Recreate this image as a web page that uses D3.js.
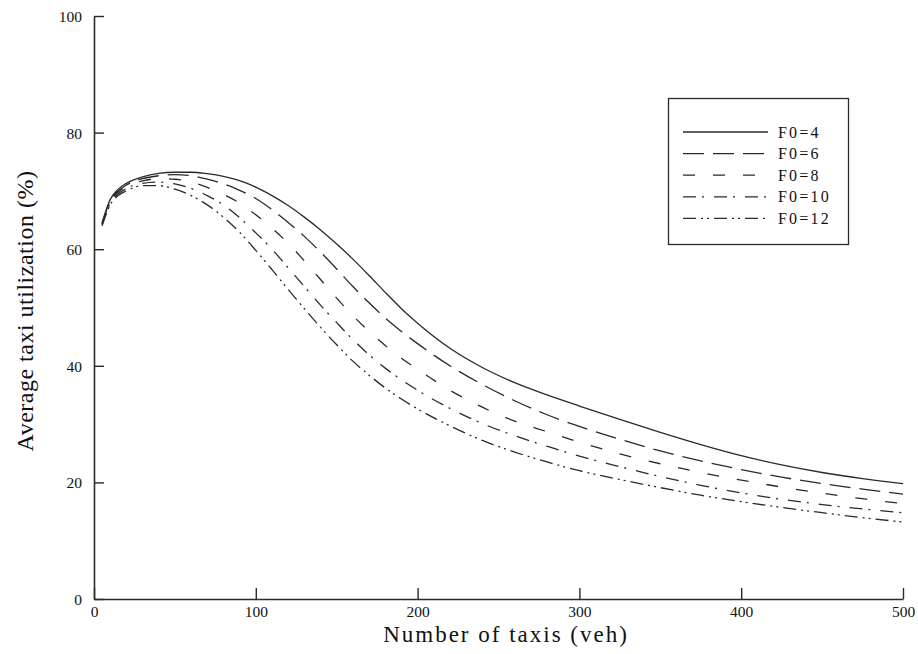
<!DOCTYPE html>
<html>
<head>
<meta charset="utf-8">
<script src="https://cdn.jsdelivr.net/npm/d3@7/dist/d3.min.js"></script>
<style>
  html, body { margin: 0; padding: 0; background: #fff; }
  svg { display: block; }
  text { font-family: "Liberation Serif", "DejaVu Serif", serif; fill: #111; }
</style>
</head>
<body>
<svg id="chart" width="918" height="654"></svg>
<script>
// Fleet size (vehicles) at which utilization was evaluated
const fleetSizes = [5, 10, 15, 20, 30, 40, 50, 60, 70, 80, 90, 100, 110, 120, 130, 140, 150, 160, 170, 180, 190, 200, 220, 240, 260, 280, 300, 325, 350, 375, 400, 425, 450, 475, 500];

// Average taxi utilization (%) for each F0 setting
const utilF0_4  = [64.5, 68.5, 70.3, 71.3, 72.4, 73.0, 73.2, 73.2, 72.95, 72.5, 71.75, 70.65, 69.2, 67.5, 65.5, 63.3, 60.9, 58.3, 55.5, 52.6, 49.8, 47.3, 43.0, 39.7, 37.1, 35.0, 33.1, 30.8, 28.6, 26.5, 24.6, 23.0, 21.7, 20.65, 19.8];
const utilF0_6  = [64.4, 68.3, 70.0, 71.0, 72.1, 72.6, 72.8, 72.6, 72.0, 71.2, 70.1, 68.7, 66.8, 64.6, 62.2, 59.5, 56.6, 53.6, 50.8, 48.2, 45.9, 43.8, 40.0, 36.8, 34.0, 31.6, 29.6, 27.4, 25.4, 23.7, 22.2, 20.9, 19.8, 18.85, 18.0];
const utilF0_8  = [64.3, 68.1, 69.8, 70.7, 71.7, 72.1, 72.0, 71.5, 70.6, 69.4, 67.9, 65.9, 63.6, 61.0, 58.0, 54.8, 51.6, 48.6, 45.9, 43.5, 41.3, 39.4, 35.8, 32.9, 30.5, 28.7, 26.9, 24.9, 23.2, 21.7, 20.4, 19.2, 18.15, 17.2, 16.35];
const utilF0_10 = [64.2, 67.9, 69.5, 70.4, 71.3, 71.5, 71.2, 70.4, 69.2, 67.6, 65.4, 62.8, 60.0, 56.8, 53.6, 50.4, 47.4, 44.5, 41.9, 39.6, 37.6, 35.8, 32.7, 30.1, 28.0, 26.2, 24.5, 22.7, 21.0, 19.5, 18.2, 17.1, 16.2, 15.45, 14.8];
const utilF0_12 = [64.0, 67.6, 69.2, 70.0, 70.9, 70.9, 70.3, 69.2, 67.6, 65.5, 62.9, 59.8, 56.5, 53.1, 49.8, 46.6, 43.6, 40.8, 38.4, 36.2, 34.3, 32.6, 29.7, 27.2, 25.2, 23.5, 22.0, 20.5, 19.1, 17.8, 16.7, 15.7, 14.8, 13.95, 13.2];

const seriesLabels = ["F0=4", "F0=6", "F0=8", "F0=10", "F0=12"];
const seriesValues = [utilF0_4, utilF0_6, utilF0_8, utilF0_10, utilF0_12];
const seriesDashes = ["none", "21,9", "12,18", "13,6,2,10", "13,5,2,4,2,5"];

const xTicks = [0, 100, 200, 300, 400, 500];
const yTicks = [0, 20, 40, 60, 80, 100];

const svg = d3.select("#chart");
const ink = "#2a2a2a";

const x = d3.scaleLinear().domain([0, 500]).range([94, 903]);
const y = d3.scaleLinear().domain([0, 100]).range([599, 16]);

// Axes with inward-pointing ticks
const xAxis = d3.axisBottom(x).tickValues(xTicks).tickSizeInner(-11).tickSizeOuter(0).tickPadding(7);
const yAxis = d3.axisLeft(y).tickValues(yTicks).tickSizeInner(-10).tickSizeOuter(0).tickPadding(12);

const gx = svg.append("g").attr("transform", `translate(0,${y(0)})`).call(xAxis);
const gy = svg.append("g").attr("transform", `translate(${x(0)},0)`).call(yAxis);

[gx, gy].forEach(g => {
  g.select(".domain").attr("stroke", ink).attr("stroke-width", 1.6);
  g.selectAll(".tick line").attr("stroke", ink).attr("stroke-width", 1.4);
  g.selectAll(".tick text")
    .attr("font-family", "'Liberation Serif', serif")
    .attr("font-size", 15.5)
    .attr("fill", "#111");
});
gy.selectAll(".tick text").attr("dy", "0.35em");

// Axis titles
svg.append("text")
  .attr("x", 506).attr("y", 642)
  .attr("text-anchor", "middle")
  .attr("font-size", 23)
  .attr("letter-spacing", 2)
  .text("Number of taxis (veh)");

svg.append("text")
  .attr("transform", "translate(33,311) rotate(-90)")
  .attr("text-anchor", "middle")
  .attr("font-size", 24)
  .attr("letter-spacing", 0.5)
  .text("Average taxi utilization (%)");

// Curves
const line = d3.line()
  .x((d, i) => x(fleetSizes[i]))
  .y(d => y(d))
  .curve(d3.curveMonotoneX);

seriesValues.forEach((vals, k) => {
  svg.append("path")
    .datum(vals)
    .attr("d", line)
    .attr("fill", "none")
    .attr("stroke", ink)
    .attr("stroke-width", 1.3)
    .attr("stroke-dasharray", seriesDashes[k]);
});

// Legend
const legend = svg.append("g");
legend.append("rect")
  .attr("x", 668.5).attr("y", 98.5)
  .attr("width", 180).attr("height", 146)
  .attr("fill", "#fff")
  .attr("stroke", ink).attr("stroke-width", 1.3);

seriesLabels.forEach((lab, k) => {
  const ly = 132 + k * 21.6;
  legend.append("line")
    .attr("x1", 683).attr("x2", 768)
    .attr("y1", ly).attr("y2", ly)
    .attr("stroke", ink).attr("stroke-width", 1.3)
    .attr("stroke-dasharray", seriesDashes[k]);
  legend.append("text")
    .attr("x", 778).attr("y", ly)
    .attr("dy", "0.35em")
    .attr("font-size", 16)
    .attr("letter-spacing", 2.2)
    .text(lab);
});
</script>
</body>
</html>
